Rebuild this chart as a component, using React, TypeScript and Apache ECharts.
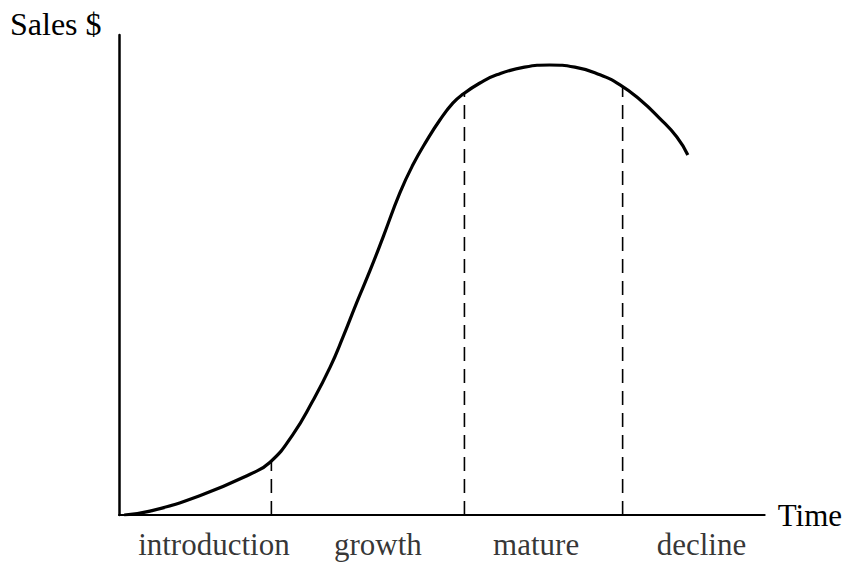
import React, { useEffect, useRef } from "react";
import * as echarts from "echarts";

// Product life cycle curve: time (0-100) vs sales (0-100)
const time = [0.8, 4.8, 12.5, 20.3, 23.4, 26.9, 30.0, 32.7, 34.7, 36.8, 38.9, 40.9, 43.5, 45.5, 47.7, 49.7, 51.7, 53.3, 55.9, 58.5, 62.8, 66.7, 70.6, 74.5, 77.6, 80.7, 83.7, 86.4, 88.1];
const sales = [0, 0.8, 4.0, 8.5, 11.0, 16.7, 23.75, 30.8, 37.1, 44.2, 51.0, 57.9, 67.1, 72.9, 78.1, 82.3, 85.8, 87.7, 90.0, 91.7, 93.3, 93.75, 93.3, 91.7, 89.6, 86.5, 82.7, 78.75, 75.0];

// Phase boundaries (dashed lines)
const boundaryTime = [23.6, 53.5, 78.0];
const boundaryTop = [11.2, 88.0, 89.2];

// Phase labels
const phases = ["introduction", "growth", "mature", "decline"];
const phaseCenters = [14.7, 40.1, 64.6, 90.2];

const FONT = '"Liberation Serif", "Times New Roman", serif';

export default function App() {
  const ref = useRef<HTMLDivElement>(null);
  useEffect(() => {
    if (!ref.current) return;
    document.body.style.margin = "0";
    const chart = echarts.init(ref.current, null, { renderer: "svg" });
    const curve = time.map((t, i) => [t, sales[i]]);
    const dashed = boundaryTime.map((t, i) => ({
      type: "line",
      data: [
        [t, 0],
        [t, boundaryTop[i]],
      ],
      symbol: "none",
      silent: true,
      lineStyle: { color: "#000", width: 1.6, type: [14, 8] },
      z: 1,
    }));
    chart.setOption({
      animation: false,
      backgroundColor: "#fff",
      grid: { left: 119, right: 80, top: 35, bottom: 48 },
      xAxis: {
        type: "value",
        min: 0,
        max: 100,
        name: "Time",
        nameLocation: "end",
        nameGap: 13,
        nameTextStyle: { color: "#000", fontFamily: FONT, fontSize: 31, padding: [0, 0, 16, 0] },
        axisLine: { show: true, lineStyle: { color: "#000", width: 2 } },
        axisTick: { show: false },
        axisLabel: { show: false },
        splitLine: { show: false },
      },
      yAxis: {
        type: "value",
        min: 0,
        max: 100,
        axisLine: { show: true, lineStyle: { color: "#000", width: 2.5 } },
        axisTick: { show: false },
        axisLabel: { show: false },
        splitLine: { show: false },
      },
      graphic: [
        {
          type: "text",
          left: 10,
          top: 8,
          style: { text: "Sales $", fill: "#000", font: `32px ${FONT}` },
        },
      ],
      series: [
        {
          type: "line",
          data: curve,
          smooth: 0.5,
          symbol: "none",
          lineStyle: { color: "#000", width: 3.2 },
          z: 3,
        },
        ...dashed,
        {
          type: "scatter",
          clip: false,
          symbolSize: 1,
          itemStyle: { color: "rgba(0,0,0,0)" },
          data: phases.map((p, i) => ({ name: p, value: [phaseCenters[i], 0] })),
          label: {
            show: true,
            position: "bottom",
            distance: 13,
            formatter: "{b}",
            color: "#000",
            fontFamily: FONT,
            fontSize: 31,
          },
        },
      ],
    });
    return () => chart.dispose();
  }, []);
  return <div ref={ref} style={{ width: 845, height: 563 }} />;
}
